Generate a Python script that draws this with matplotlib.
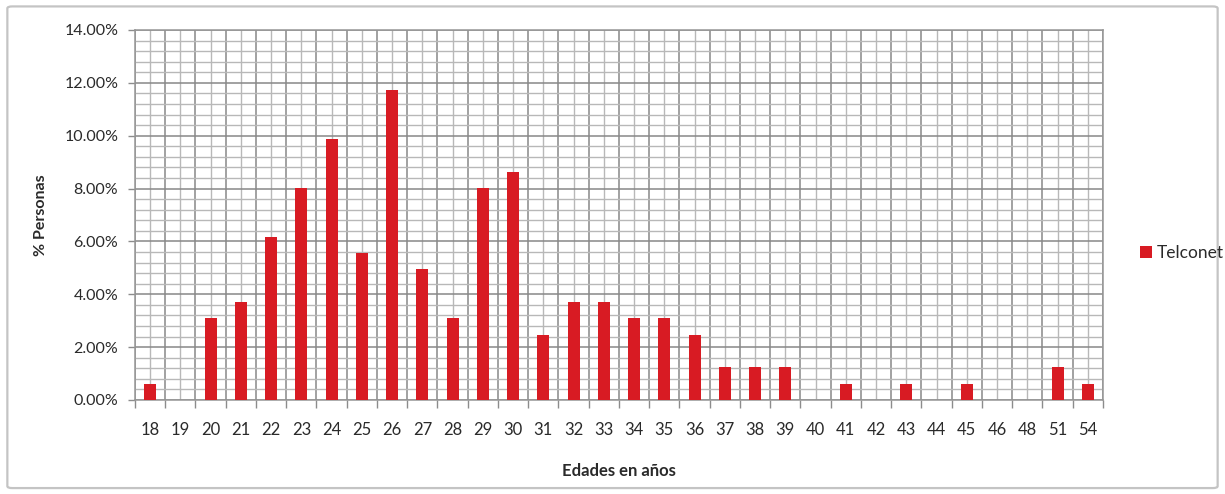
import numpy as np
import matplotlib.pyplot as plt
from matplotlib.patches import FancyBboxPatch
from matplotlib.ticker import FuncFormatter, MultipleLocator, FixedLocator

plt.rcParams['font.family'] = ['Lato', 'DejaVu Sans']

# ages (categories) and share of people per age, in percent
edades = ['18', '19', '20', '21', '22', '23', '24', '25', '26', '27', '28',
          '29', '30', '31', '32', '33', '34', '35', '36', '37', '38', '39',
          '40', '41', '42', '43', '44', '45', '46', '48', '51', '54']
telconet = [0.62, 0.0, 3.09, 3.70, 6.17, 8.02, 9.88, 5.56, 11.73, 4.94, 3.09,
            8.02, 8.64, 2.47, 3.70, 3.70, 3.09, 3.09, 2.47, 1.23, 1.23, 1.23,
            0.0, 0.62, 0.0, 0.62, 0.0, 0.62, 0.0, 0.0, 1.23, 0.62]

x = np.arange(len(edades))

fig = plt.figure(figsize=(12.25, 4.94), dpi=100)
ax = fig.add_axes([0.1102, 0.1903, 0.7902, 0.7490])

ax.bar(x, telconet, 0.4, color='#d81b23', label='Telconet', zorder=3)

ax.set_xlim(-0.5, len(edades) - 0.5)
ax.set_ylim(0, 14)

# category boundaries carry the tick marks and darker grid, labels sit at centres
ax.xaxis.set_major_locator(FixedLocator(np.arange(-0.5, len(edades), 1.0)))
ax.xaxis.set_minor_locator(FixedLocator(x))
ax.set_xticklabels([], minor=False)
ax.set_xticklabels(edades, minor=True)
ax.tick_params(axis='x', which='major', length=6, color='#8c8c8c', width=1)
ax.tick_params(axis='x', which='minor', length=0, pad=16, labelsize=12, labelcolor='#2a2a2a')

ax.yaxis.set_major_locator(MultipleLocator(2))
ax.yaxis.set_minor_locator(MultipleLocator(0.4))
ax.yaxis.set_major_formatter(FuncFormatter(lambda v, p: '%.2f%%' % v))
ax.tick_params(axis='y', which='major', length=5, color='#8c8c8c', width=1,
               labelsize=11.5, labelcolor='#2a2a2a', pad=7)
ax.tick_params(axis='y', which='minor', length=0)

ax.grid(True, which='major', color='#888888', lw=1.1)
ax.grid(True, which='minor', color='#b8b8b8', lw=1.0)
ax.set_axisbelow(True)

for s in ax.spines.values():
    s.set_color('#969696')
    s.set_linewidth(1.1)

ax.set_xlabel('Edades en años', fontsize=12, fontweight='bold', color='#2a2a2a', labelpad=18)
ax.set_ylabel('% Personas', fontsize=11.5, fontweight='bold', color='#2a2a2a', labelpad=12)

fig.legend(loc='center left', bbox_to_anchor=(0.918, 0.487), frameon=False,
           fontsize=12.5, handlelength=0.7, handleheight=0.7, handletextpad=0.25,
           labelcolor='#2a2a2a')

# outer chart border
fig.patches.append(FancyBboxPatch((0.006, 0.012), 0.988, 0.975,
                                  boxstyle='round,pad=0,rounding_size=0.004',
                                  transform=fig.transFigure, fill=False,
                                  edgecolor='#c4c4c4', lw=1.6))

fig.savefig('out.png', dpi=100)
